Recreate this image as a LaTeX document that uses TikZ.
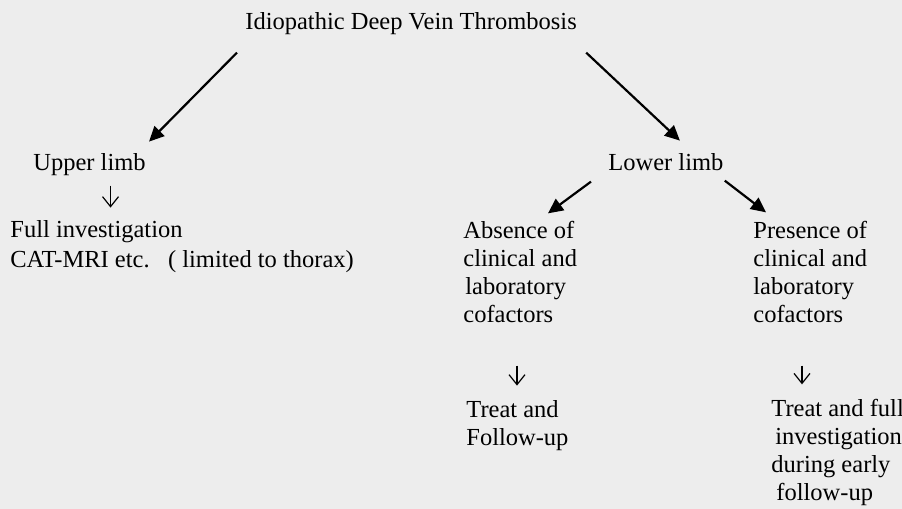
\documentclass[tikz,border=0pt]{standalone}
\usepackage{fontspec}
\setmainfont{Liberation Serif}
\usetikzlibrary{arrows.meta,calc}
\definecolor{scangray}{RGB}{237,237,237}
\tikzset{
  bigarrow/.style={line width=1.1pt,-{Triangle[length=7.5pt,width=7pt]}},
  thinarrow/.style={line width=0.6pt,-{Straight Barb[length=5pt,width=8pt]}},
  lbl/.style={anchor=base west,inner sep=0pt,align=left,font=\fontsize{12.25}{14}\selectfont},
}

\begin{document}
\begin{tikzpicture}[x=0.5pt,y=-0.5pt]
% page in pixel units (y runs down), nodes sit on their last baseline
\fill[scangray] (0,0) rectangle (902,509);
\useasboundingbox (0,0) rectangle (902,509);

% Nodes
\node[lbl] (dvt) at (245,29) {Idiopathic Deep Vein Thrombosis};
\node[lbl] (upper) at (33,170) {Upper limb};
\node[lbl] (lower) at (608,170) {Lower limb};
\node[lbl] (fullinv) at (10,267) {Full investigation\\[1pt]CAT-MRI etc.\ \ \ ( limited to thorax)};
\node[lbl] (absence) at (463,322) {Absence of\\clinical and\\\hspace{1pt}laboratory\\cofactors};
\node[lbl] (presence) at (753,322) {Presence of\\clinical and\\laboratory\\cofactors};
\node[lbl] (treatfu) at (466,445) {Treat and\\Follow-up};
\node[lbl] (treatfull) at (771,500) {Treat and full\\\hspace{2pt}investigation\\during early\\\hspace{2.5pt}follow-up};

% Arrows
\draw[bigarrow] ($(dvt.south west)+(-8,18)$) -- ($(upper.north east)+(3,-11)$);
\draw[bigarrow] ($(dvt.south east)+(9,18)$) -- ($(lower.north)+(14,-12)$);
\draw[bigarrow] ($(lower.south west)+(-17,11)$) -- ($(absence.north west)+(85,-7)$);
\draw[bigarrow] ($(lower.south east)+(1,10)$) -- ($(presence.north west)+(13,-8)$);

\draw[thinarrow] ($(upper.south)+(21,10)$) -- ($(upper.south |- fullinv.north)+(21,-12)$);
\draw[thinarrow] ($(absence.south west)+(54,43)$) -- ($(absence.south west |- treatfu.north)+(54,-14)$);
\draw[thinarrow] ($(presence.south west)+(49,43)$) -- ($(presence.south west |- treatfull.north)+(49,-14)$);
\end{tikzpicture}
\end{document}
